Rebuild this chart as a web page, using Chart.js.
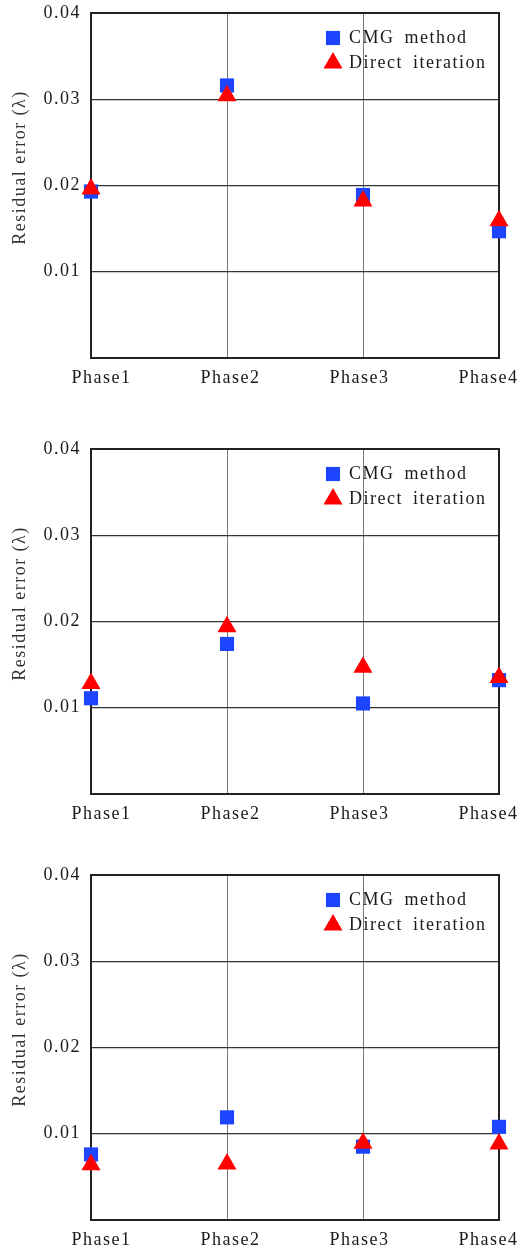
<!DOCTYPE html>
<html>
<head>
<meta charset="utf-8">
<script src="https://cdn.jsdelivr.net/npm/chart.js@4.4.1/dist/chart.umd.min.js"></script>
<style>
  body { margin: 0; background: #fff; }
  .panel { position: absolute; left: 0; }
</style>
</head>
<body>
<div class="panel" style="top:0px"><canvas id="chartA" width="522" height="400"></canvas></div>
<div class="panel" style="top:436px"><canvas id="chartB" width="522" height="400"></canvas></div>
<div class="panel" style="top:862px"><canvas id="chartC" width="522" height="390"></canvas></div>
<script>
const phases = ['Phase1', 'Phase2', 'Phase3', 'Phase4'];
const seriesNames = ['CMG method', 'Direct iteration'];
const yTickValues = [0, 0.01, 0.02, 0.03, 0.04];

// top panel
const cmgA = [0.0193, 0.0316, 0.0189, 0.0147];
const directA = [0.0196, 0.0304, 0.0182, 0.0159];
// middle panel
const cmgB = [0.0111, 0.0174, 0.0105, 0.0132];
const directB = [0.0128, 0.0194, 0.0147, 0.0135];
// bottom panel
const cmgC = [0.0076, 0.0119, 0.0085, 0.0108];
const directC = [0.0064, 0.0065, 0.0089, 0.0088];

Chart.defaults.font.family = "'Liberation Serif', 'Times New Roman', serif";
Chart.defaults.font.size = 18;
Chart.defaults.color = '#1a1a1a';

const blue = '#1d45ff';
const red = '#ff0000';

// wider letters, closer to the LaTeX font of the original
const spacing = {
  id: 'spacing',
  beforeUpdate(chart) {
    chart.ctx.letterSpacing = '1.5px';
    chart.ctx.wordSpacing = '4px';
  },
  beforeDraw(chart) {
    chart.ctx.letterSpacing = '1.5px';
    chart.ctx.wordSpacing = '4px';
  }
};

// box around the plot + legend in the top right corner
const frame = {
  id: 'frame',
  afterUpdate(chart) {
    // the original spreads the x labels a bit tighter than the ticks
    const items = chart.scales.x.getLabelItems();
    items.forEach((it, i) => { it.options.translation[0] += (1.5 - i) * 7; });
  },
  beforeDatasetsDraw(chart) {
    const { ctx, chartArea: a } = chart;
    ctx.save();
    ctx.strokeStyle = '#222';
    ctx.lineWidth = 2;
    ctx.strokeRect(a.left, a.top, a.right - a.left, a.bottom - a.top);
    ctx.restore();
  },
  afterDraw(chart) {
    const { ctx, chartArea: a } = chart;
    const order = [1, 0];
    ctx.save();
    ctx.textBaseline = 'middle';
    ctx.textAlign = 'left';
    ctx.font = "18px 'Liberation Serif', serif";
    order.forEach((di, row) => {
      const ds = chart.data.datasets[di];
      const y = a.top + 25 + row * 25;
      const x = a.right - 166;
      ctx.fillStyle = ds.pointBackgroundColor;
      ctx.beginPath();
      if (ds.pointStyle === 'rect') {
        const s = ds.pointRadius * Math.SQRT1_2;
        ctx.rect(x - s, y - s, 2 * s, 2 * s);
      } else {
        const r = ds.pointRadius;
        ctx.moveTo(x, y - r);
        ctx.lineTo(x + r * Math.sin(2 * Math.PI / 3), y + r / 2);
        ctx.lineTo(x - r * Math.sin(2 * Math.PI / 3), y + r / 2);
        ctx.closePath();
      }
      ctx.fill();
      ctx.fillStyle = '#1a1a1a';
      ctx.fillText(ds.label, a.right - 150, y);
    });
    ctx.restore();
  }
};

function makeChart(id, cmg, direct) {
  const canvas = document.getElementById(id);
  const h = canvas.height;
  return new Chart(canvas.getContext('2d'), {
    type: 'line',
    data: {
      labels: phases,
      datasets: [{
        label: seriesNames[1],
        data: direct,
        order: 0,
        showLine: false,
        clip: false,
        pointStyle: 'triangle',
        pointRadius: 11,
        pointHoverRadius: 11,
        pointBackgroundColor: red,
        pointBorderWidth: 0
      }, {
        label: seriesNames[0],
        data: cmg,
        order: 1,
        showLine: false,
        clip: false,
        pointStyle: 'rect',
        pointRadius: 10,
        pointHoverRadius: 10,
        pointBackgroundColor: blue,
        pointBorderWidth: 0
      }]
    },
    options: {
      responsive: false,
      animation: false,
      layout: { padding: { top: 13, right: 23, left: 0, bottom: 0 } },
      plugins: {
        legend: { display: false },
        tooltip: { enabled: false }
      },
      scales: {
        x: {
          offset: false,
          grid: { color: '#777', lineWidth: 1, drawTicks: false },
          border: { color: '#222', width: 2 },
          ticks: { padding: 9, maxRotation: 0, autoSkip: false },
          afterFit(scale) {
            scale.height = h - 358;
            scale.paddingLeft = 0;
            scale.paddingRight = 0;
          }
        },
        y: {
          min: 0,
          max: 0.04,
          grid: { color: '#333', lineWidth: 1.2, drawTicks: false },
          border: { color: '#222', width: 2 },
          afterBuildTicks(scale) {
            scale.ticks = yTickValues.map(v => ({ value: v }));
          },
          ticks: {
            padding: 10,
            callback: v => (v === 0 ? '' : v.toFixed(2))
          },
          title: {
            display: true,
            text: '      Residual error (λ)',
            color: '#333',
            font: { size: 18 },
            padding: { top: 9, bottom: 0 }
          },
          afterFit(scale) {
            scale.width = 91;
            scale.paddingTop = 0;
            scale.paddingBottom = 0;
          }
        }
      }
    },
    plugins: [spacing, frame]
  });
}

makeChart('chartA', cmgA, directA);
makeChart('chartB', cmgB, directB);
makeChart('chartC', cmgC, directC);
</script>
</body>
</html>
